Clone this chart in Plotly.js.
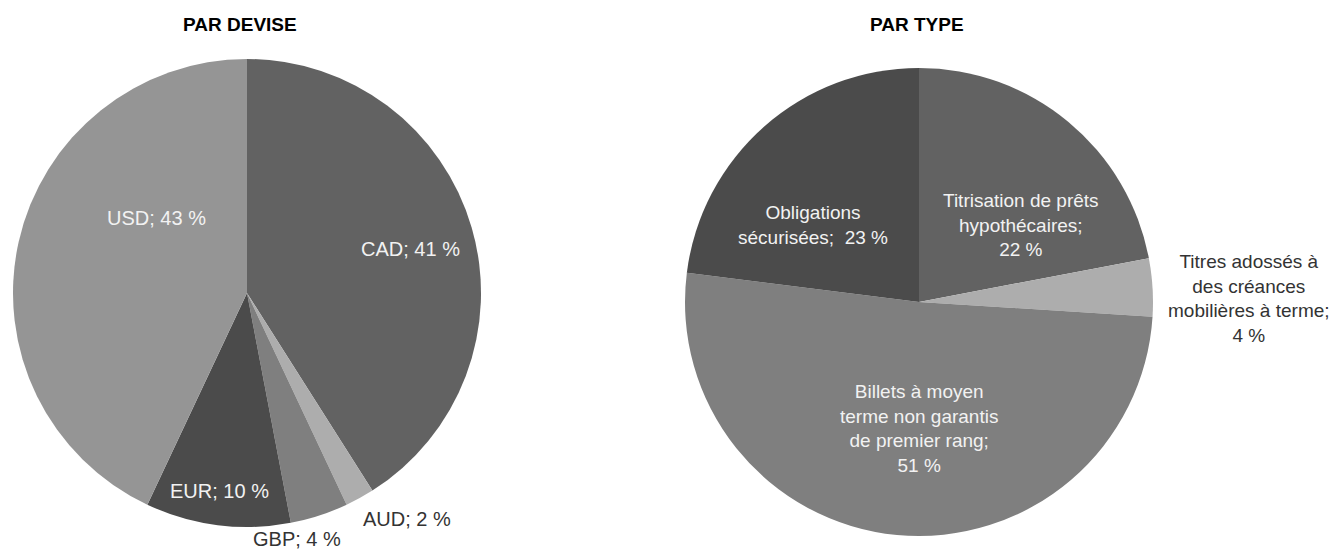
<!DOCTYPE html>
<html>
<head>
<meta charset="utf-8">
<script src="https://cdn.plot.ly/plotly-3.0.1.min.js"></script>
<style>html,body{margin:0;padding:0;background:#fff;}#chart{width:1340px;height:552px;}</style>
</head>
<body>
<div id="chart"></div>
<script>
// ---- Data ----
const deviseLabels = ["CAD", "AUD", "GBP", "EUR", "USD"];
const deviseValues = [41, 2, 4, 10, 43];
const deviseColors = ["#626262", "#adadad", "#7f7f7f", "#4b4b4b", "#959595"];

const typeLabels = ["Titrisation de prêts hypothécaires", "Titres adossés à des créances mobilières à terme", "Billets à moyen terme non garantis de premier rang", "Obligations sécurisées"];
const typeDisplay = ["Titrisation de prêts<br>hypothécaires;<br>", "Titres adossés à<br>des créances<br>mobilières à terme;<br>", "Billets à moyen<br>terme non garantis<br>de premier rang;<br>", "Obligations<br>sécurisées;  "];
const typeValues = [22, 4, 51, 23];
const typeColors = ["#626262", "#adadad", "#7f7f7f", "#4b4b4b"];

const titles = ["PAR DEVISE", "PAR TYPE"];

// ---- Layout helpers (positions in pixels of the 1340x552 canvas) ----
const W = 1340, H = 552;
const px = x => x / W, py = y => 1 - y / H;
const FONT = '"Liberation Sans", Arial, sans-serif';

const deviseLabelPos = [[411, 249, "#f2f2f2"], [407, 519, "#333333"], [297, 539, "#333333"], [219, 491, "#f2f2f2"], [156, 218, "#f2f2f2"]];
const typeLabelPos = [[1021, 225, "#f2f2f2"], [1249, 298, "#333333"], [919, 428, "#f2f2f2"], [813, 225, "#f2f2f2"]];

const traces = [
  {
    type: "pie", labels: deviseLabels, values: deviseValues, sort: false, direction: "clockwise", rotation: 0,
    marker: {colors: deviseColors, line: {width: 0}}, textinfo: "none", hoverinfo: "none", showlegend: false,
    domain: {x: [px(13), px(481)], y: [py(527), py(59)]}
  },
  {
    type: "pie", labels: typeLabels, values: typeValues, sort: false, direction: "clockwise", rotation: 0,
    marker: {colors: typeColors, line: {width: 0}}, textinfo: "none", hoverinfo: "none", showlegend: false,
    domain: {x: [px(685), px(1153)], y: [py(537), py(67)]}
  }
];

const annotations = [];
deviseLabels.forEach((l, i) => {
  const p = deviseLabelPos[i];
  annotations.push({text: l + "; " + deviseValues[i] + " %", x: px(p[0]), y: py(p[1]), xref: "paper", yref: "paper",
    xanchor: "center", yanchor: "middle", showarrow: false, font: {family: FONT, size: 20, color: p[2]}});
});
typeLabels.forEach((l, i) => {
  const p = typeLabelPos[i];
  annotations.push({text: typeDisplay[i] + typeValues[i] + " %", x: px(p[0]), y: py(p[1]), xref: "paper", yref: "paper",
    xanchor: "center", yanchor: "middle", align: "center", showarrow: false, font: {family: FONT, size: 19, color: p[2]}});
});
annotations.push({text: "<b>" + titles[0] + "</b>", x: px(240), y: py(25), xref: "paper", yref: "paper", xanchor: "center", yanchor: "middle", showarrow: false, font: {family: FONT, size: 19, color: "#000"}});
annotations.push({text: "<b>" + titles[1] + "</b>", x: px(917), y: py(25), xref: "paper", yref: "paper", xanchor: "center", yanchor: "middle", showarrow: false, font: {family: FONT, size: 19, color: "#000"}});

const layout = {
  width: W, height: H, margin: {l: 0, r: 0, t: 0, b: 0},
  paper_bgcolor: "#fff", plot_bgcolor: "#fff",
  annotations: annotations, showlegend: false
};
Plotly.newPlot("chart", traces, layout, {displayModeBar: false, staticPlot: true});
</script>
</body>
</html>
